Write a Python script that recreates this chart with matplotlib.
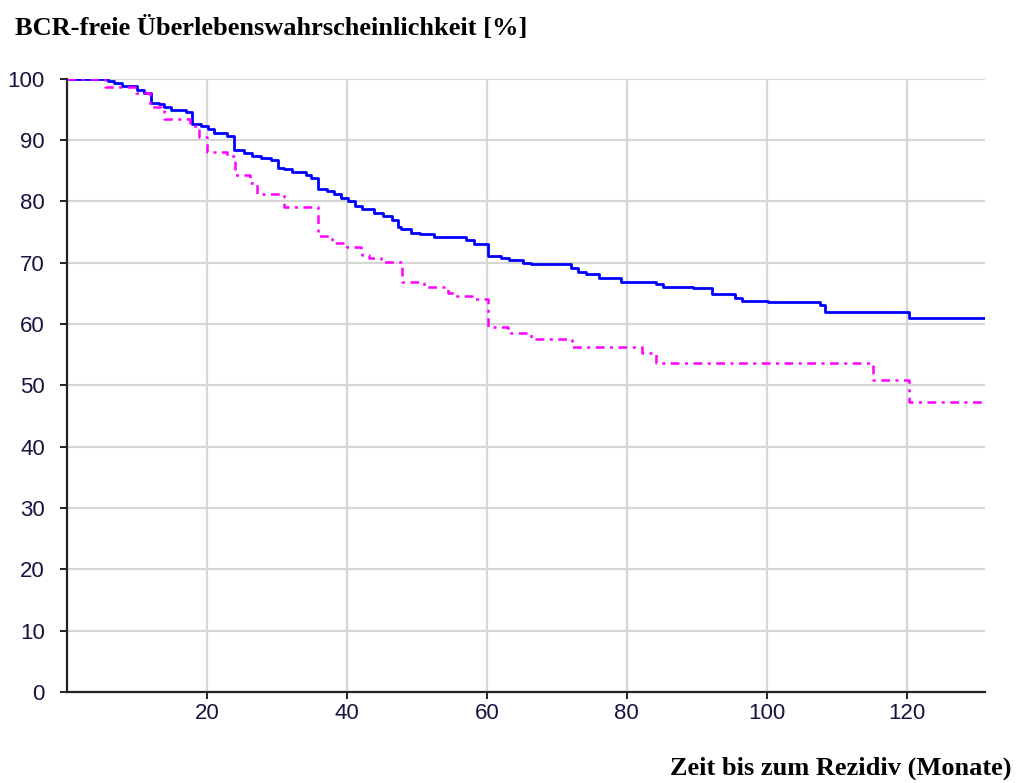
import matplotlib
matplotlib.use("Agg")
import matplotlib.pyplot as plt

# Kaplan-Meier Schätzung: Zeitpunkte (Monate) und Überlebenswahrscheinlichkeit (%) nach dem Ereignis
t_blau = [0, 5.8, 6.7, 7.9, 10.0, 11.0, 12.0, 13.2, 13.9, 14.8, 17.0, 17.9, 19.1, 20.1, 21.0,
          22.9, 23.9, 25.3, 26.5, 27.7, 29.1, 30.1, 31.0, 32.2, 34.1, 34.9, 35.8, 37.2, 38.2,
          39.2, 40.1, 41.1, 42.2, 43.9, 45.1, 46.5, 47.3, 47.7, 49.2, 50.4, 52.5, 57.0, 58.2,
          60.1, 62.0, 63.2, 65.1, 66.3, 72.1, 73.0, 74.2, 76.1, 79.2, 84.2, 85.2, 89.5, 92.2,
          95.4, 96.4, 100.2, 107.6, 108.3, 120.4, 131.2]
s_blau = [100, 99.6, 99.3, 98.8, 98.1, 97.7, 96.0, 95.8, 95.4, 94.8, 94.5, 92.6, 92.2, 91.8, 91.1,
          90.7, 88.3, 87.8, 87.3, 87.0, 86.7, 85.4, 85.2, 84.8, 84.3, 83.8, 82.0, 81.6, 81.1,
          80.5, 80.0, 79.3, 78.7, 78.1, 77.6, 77.0, 75.8, 75.4, 74.9, 74.6, 74.2, 73.6, 73.0,
          71.1, 70.7, 70.4, 70.0, 69.7, 69.1, 68.4, 68.2, 67.5, 66.8, 66.5, 66.1, 65.9, 64.9,
          64.2, 63.8, 63.5, 63.1, 62.0, 61.0, 61.0]

t_magenta = [0, 5.5, 9.9, 11.9, 13.5, 13.8, 17.6, 18.8, 20.0, 22.9, 24.0, 26.2, 27.2, 31.0,
             35.8, 37.9, 40.0, 42.0, 42.2, 43.2, 44.9, 47.9, 51.0, 54.4, 55.3, 57.9, 60.1,
             63.0, 66.3, 72.2, 82.2, 84.2, 115.2, 120.4, 131.2]
s_magenta = [100, 98.7, 97.7, 95.4, 95.0, 93.4, 92.2, 90.4, 88.1, 87.3, 84.2, 83.0, 81.1, 79.0,
             74.3, 73.2, 72.6, 72.1, 71.3, 70.7, 70.1, 66.9, 66.1, 65.1, 64.5, 64.0, 59.5,
             58.5, 57.5, 56.2, 55.2, 53.7, 50.8, 47.2, 47.2]

x_ticks = [20, 40, 60, 80, 100, 120]
y_ticks = [0, 10, 20, 30, 40, 50, 60, 70, 80, 90, 100]

tick_color = "#141440"

fig = plt.figure(figsize=(10.2, 7.83), dpi=100)
ax = fig.add_axes((0.0657, 0.1162, 0.9, 0.7835))

ax.step(t_blau, s_blau, where="post", color="#0000ff", linewidth=2.0, zorder=3)
ax.step(t_magenta, s_magenta, where="post", color="#ff00ff", linewidth=1.8,
        dashes=(3.5, 2.2, 1.2, 2.2), zorder=3)

ax.set_xlim(0, 131.2)
ax.set_ylim(0, 100)
ax.set_xticks(x_ticks)
ax.set_yticks(y_ticks)

ax.grid(True, color="#d6d6d6", linewidth=1.6, zorder=0)
ax.set_axisbelow(True)

for side in ("top", "right"):
    ax.spines[side].set_visible(False)
for side in ("left", "bottom"):
    ax.spines[side].set_linewidth(1.6)
    ax.spines[side].set_color("#222222")

ax.tick_params(axis="both", direction="out", length=5, width=1.4, color="#222222",
               labelsize=16, labelcolor=tick_color)
ax.tick_params(axis="y", pad=11)
ax.tick_params(axis="x", pad=3)
for lbl in ax.get_xticklabels() + ax.get_yticklabels():
    lbl.set_fontfamily("Liberation Sans")

fig.text(0.0147, 0.964, "BCR-freie Überlebenswahrscheinlichkeit [%]", fontsize=19,
         fontweight="bold", family="Liberation Serif", ha="left", va="center")
fig.text(0.992, 0.019, "Zeit bis zum Rezidiv (Monate)", fontsize=19,
         fontweight="bold", family="Liberation Serif", ha="right", va="center")

fig.savefig("out.png", dpi=100)
